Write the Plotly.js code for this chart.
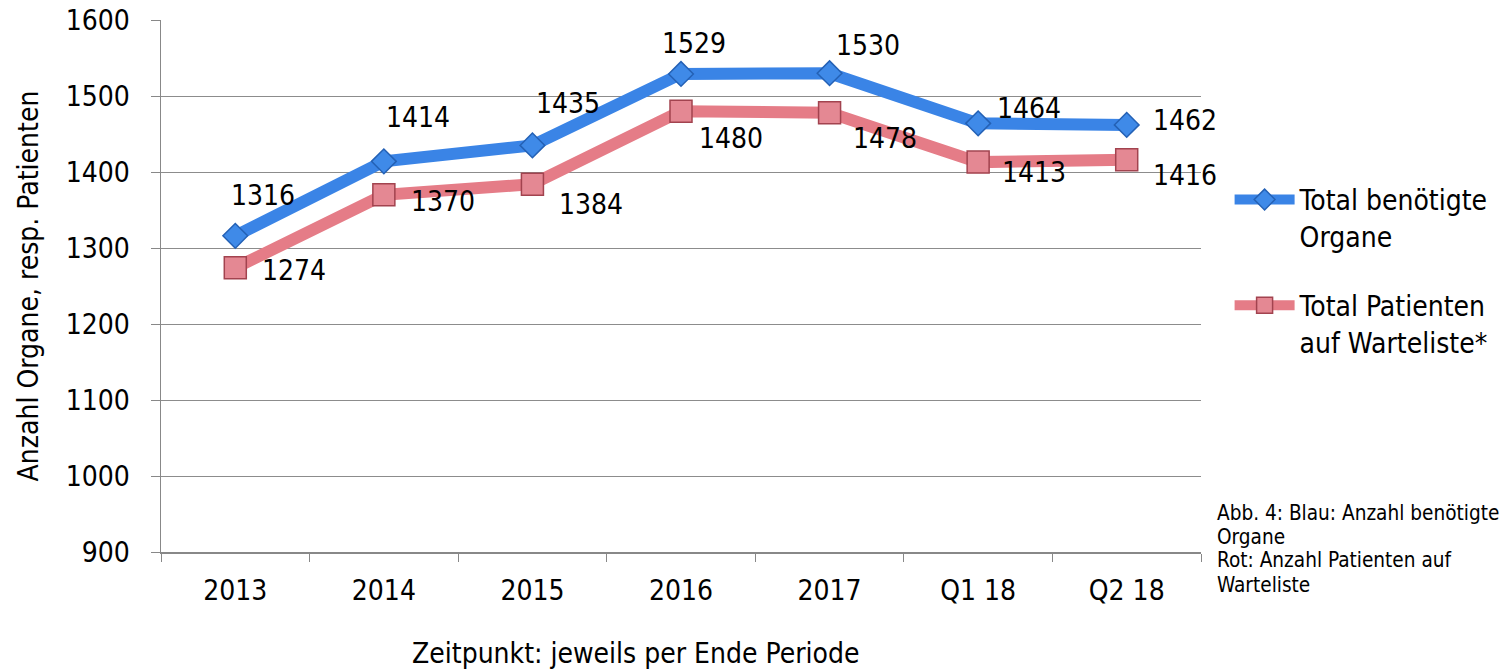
<!DOCTYPE html>
<html><head><meta charset="utf-8">
<script src="https://cdn.plot.ly/plotly-3.0.1.min.js"></script>
<style>body{margin:0;background:#fff}#chart{width:1503px;height:672px}</style>
</head><body><div id="chart"></div>
<script>
const categories = ["2013","2014","2015","2016","2017","Q1 18","Q2 18"];
const organe = [1316,1414,1435,1529,1530,1464,1462];
const patienten = [1274,1370,1384,1480,1478,1413,1416];
const seriesNames = ["Total benötigte<br>Organe","Total Patienten<br>auf Warteliste*"];
const xTitle = "Zeitpunkt: jeweils per Ende Periode";
const yTitle = "Anzahl Organe, resp. Patienten";
const noteLines = ["Abb. 4: Blau: Anzahl benötigte","Organe","Rot: Anzahl Patienten auf","Warteliste"];
// label offsets (pixels, right/down) for data labels, style only
const organeShift = [[28,-40],[34,-44],[36,-42],[13,-30],[38,-28],[51,-15],[58,-4]];
const patientenShift = [[59,3],[59,7],[59,20],[50,27],[55,26],[56,10],[58,16]];

const font = "DejaVu Sans Condensed, Tahoma, sans-serif";
const FS = 28;
const traces = [
  {x:categories,y:organe,name:seriesNames[0],type:"scatter",mode:"lines+markers",
   line:{color:"#3a84e6",width:12},
   marker:{symbol:"diamond",size:19,color:"#3f8ae8",line:{color:"#2461b5",width:1.5}},
   legendgroup:"a"},
  {x:categories,y:patienten,name:seriesNames[1],type:"scatter",mode:"lines+markers",
   line:{color:"#e57c87",width:12},
   marker:{symbol:"square",size:22,color:"#e48893",line:{color:"#a2434f",width:1.5}},
   legendgroup:"b"}
];
const annotations = [];
organe.forEach((v,i)=>annotations.push({x:i,y:v,text:String(v),showarrow:false,
  xshift:organeShift[i][0],yshift:-organeShift[i][1],font:{family:font,size:FS,color:"#000"}}));
patienten.forEach((v,i)=>annotations.push({x:i,y:v,text:String(v),showarrow:false,
  xshift:patientenShift[i][0],yshift:-patientenShift[i][1],font:{family:font,size:FS,color:"#000"}}));
annotations.push({xref:"paper",yref:"paper",x:0.456,y:-0.1917,yanchor:"middle",showarrow:false,borderpad:0,
  text:xTitle,font:{family:font,size:FS,color:"#000"}});
const noteY = [0.0733,0.0282,-0.015,-0.062];
noteLines.forEach((t,i)=>annotations.push({xref:"paper",yref:"paper",x:1.0135,xanchor:"left",y:noteY[i],yanchor:"middle",
  align:"left",showarrow:false,text:t,font:{family:font,size:20.6,color:"#000"}}));

const layout = {
  width:1503,height:672,
  margin:{l:161,r:302,t:20,b:120,autoexpand:false},
  paper_bgcolor:"#fff",plot_bgcolor:"#fff",
  font:{family:font,size:FS,color:"#000"},
  showlegend:true,
  legend:{x:1.0275,xanchor:"left",y:0.709,yanchor:"top",valign:"top",font:{family:font,size:FS,color:"#000"},
    tracegroupgap:30,itemwidth:60,bgcolor:"rgba(0,0,0,0)"},
  xaxis:{type:"category",range:[-0.5,6.5],tickson:"boundaries",ticks:"outside",ticklen:8,tickcolor:"#888",
    showline:true,linecolor:"#888",linewidth:1.5,showgrid:false,zeroline:false,automargin:false,
    tickfont:{family:font,size:FS},ticklabelstandoff:13,tickangle:0,fixedrange:true},
  yaxis:{range:[900,1600],dtick:100,tick0:900,ticks:"outside",ticklen:9,tickcolor:"#888",
    showline:true,linecolor:"#888",linewidth:1.5,showgrid:true,gridcolor:"#8c8c8c",gridwidth:1,zeroline:false,automargin:false,
    tickfont:{family:font,size:FS},ticklabelstandoff:15,
    title:{text:yTitle,font:{family:font,size:FS},standoff:19}},
  annotations:annotations
};
Plotly.newPlot("chart",traces,layout,{displayModeBar:false,staticPlot:true});
</script></body></html>
